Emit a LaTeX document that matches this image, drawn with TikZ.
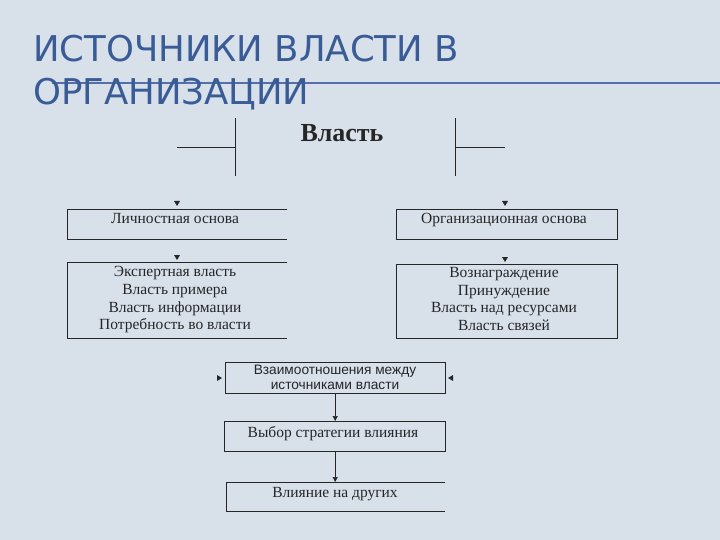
\documentclass[tikz,border=0pt]{standalone}
\usepackage{fontspec}
\setmainfont{Liberation Serif}
\newfontfamily\titlefont{DejaVu Sans}
\newfontfamily\arialfont{Liberation Sans}
\usetikzlibrary{positioning,arrows.meta}
\definecolor{slidebg}{RGB}{216,224,234}
\definecolor{titleblue}{RGB}{58,92,150}
\definecolor{ruleblue}{RGB}{84,112,170}
\definecolor{ink}{RGB}{38,38,38}
\tikzset{
  panel/.style={draw=none, minimum height=30pt, inner sep=0pt, anchor=north west},
  caption/.style={text=ink, font=\fontsize{15.5}{17.8}\selectfont, align=center, inner sep=0pt},
  frame/.style={draw=ink, line width=0.7pt},
  arr/.style={frame, -{Triangle[length=5pt,width=5pt]}},
}
% small arrow heads without a shaft
\newcommand{\headdown}[1]{\fill[ink] (#1) -- ++(-3,-5) -- ++(6,0) -- cycle;}
\newcommand{\headright}[1]{\fill[ink] (#1) -- ++(-5,-3) -- ++(0,6) -- cycle;}
\newcommand{\headleft}[1]{\fill[ink] (#1) -- ++(5,-3) -- ++(0,6) -- cycle;}
\begin{document}
\begin{tikzpicture}[x=1pt,y=-1pt]
\useasboundingbox (0,0) rectangle (720,540);
\fill[slidebg] (0,0) rectangle (720,540);

% title
\draw[ruleblue, line width=1.6pt] (52,83) -- (720,83);
\node[anchor=base west, inner sep=0, text=titleblue, font=\titlefont\fontsize{35.5}{42}\selectfont] (title1) at (33,62) {ИСТОЧНИКИ ВЛАСТИ В};
\node[anchor=base west, inner sep=0, text=titleblue, font=\titlefont\fontsize{35.5}{42}\selectfont] (title2) at (33,105) {ОРГАНИЗАЦИИ};

% top
\node[anchor=base, inner sep=0, text=ink, font=\bfseries\fontsize{26}{30}\selectfont] (power) at (342,142) {Власть};
\coordinate (ltop) at (235,118);
\coordinate (lbot) at (235,176);
\coordinate (lend) at (177,147);
\coordinate (rtop) at (455,118);
\coordinate (rbot) at (455,176);
\coordinate (rend) at (505,147);
\draw[frame] (ltop) -- (lbot);
\draw[frame] (lend) -- (ltop |- lend);
\draw[frame] (rtop) -- (rbot);
\draw[frame] (rend) -- (rtop |- rend);

% bases
\node[panel, minimum width=220pt] (lbase) at (67,209) {};
\node[panel, minimum width=221pt] (obase) at (396,209) {};
\draw[frame] (lbase.north east) -- (lbase.north west) -- (lbase.south west) -- (lbase.south east);
\draw[frame] (obase.north west) rectangle (obase.south east);
\node[caption, anchor=base] (lbasetxt) at (175,223) {Личностная основа};
\node[caption, anchor=base] (obasetxt) at (504,223) {Организационная основа};
\headdown{177,206}
\headdown{505,206}

% sources
\node[panel, minimum width=220pt, minimum height=76pt] (llist) at (67,262) {};
\node[panel, minimum width=221pt, minimum height=74pt] (olist) at (396,264) {};
\draw[frame] (llist.north east) -- (llist.north west) -- (llist.south west) -- (llist.south east);
\draw[frame] (olist.north west) rectangle (olist.south east);
\node[caption, anchor=north] (llisttxt) at (175,266) {Экспертная власть\\Власть примера\\Власть информации\\Потребность во власти};
\node[caption, anchor=north] (olisttxt) at (504,267) {Вознаграждение\\Принуждение\\Власть над ресурсами\\Власть связей};
\headdown{177,260}
\headdown{505,262}

% lower chain
\node[panel, minimum width=220pt, minimum height=31pt] (rel) at (225,362) {};
\draw[frame] (rel.north west) rectangle (rel.south east);
\node[caption, anchor=north, font=\arialfont\fontsize{13.7}{15}\selectfont] (reltxt) at (335,365) {Взаимоотношения между\\источниками власти};
\headright{222,378}
\headleft{448,378}

\node[panel, minimum width=221pt] (strat) at (224,421) {};
\draw[frame] (strat.north west) rectangle (strat.south east);
\node[caption, anchor=base] (strattxt) at (333,437) {Выбор стратегии влияния};

\node[panel, minimum width=219pt, minimum height=29pt] (infl) at (226,482) {};
\draw[frame] (infl.north east) -- (infl.north west) -- (infl.south west) -- (infl.south east);
\node[caption, anchor=base] (infltxt) at (335,497) {Влияние на других};

\draw[arr] (rel.south) -- (rel.south |- strat.north);
\draw[arr] (rel.south |- strat.south) -- (rel.south |- infl.north);
\end{tikzpicture}
\end{document}
